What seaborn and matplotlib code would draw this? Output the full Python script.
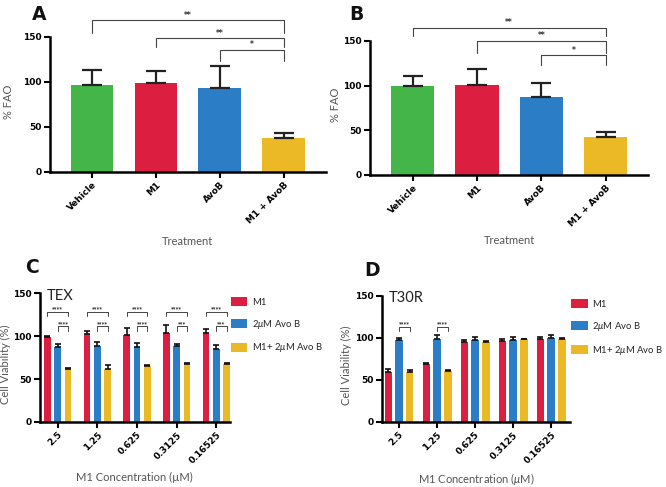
import numpy as np
import pandas as pd
import matplotlib
matplotlib.use("Agg")
import matplotlib.pyplot as plt
import seaborn as sns

# Panels A / B: % FAO by treatment (mean and upper SD)
treatments = ["Vehicle", "M1", "AvoB", "M1 + AvoB"]
fao_a = [96.7, 98.5, 93.3, 38.1]
fao_a_sd = [15.9, 13.4, 24.1, 5.2]
fao_b = [99.6, 100.7, 87.3, 42.5]
fao_b_sd = [11.2, 17.8, 15.3, 5.6]
fao_pairs = [(0, 3, "**"), (1, 3, "**"), (2, 3, "*")]

# Panels C / D: cell viability by M1 concentration
concentrations = ["2.5", "1.25", "0.625", "0.3125", "0.16525"]
groups = ["M1", "2$\\mu$M Avo B", "M1+ 2$\\mu$M Avo B"]
tex_m1 = [98.8, 102.0, 101.0, 103.9, 103.1]
tex_m1_sd = [1.2, 3.8, 8.0, 8.5, 5.0]
tex_avob = [87.2, 88.4, 87.6, 88.0, 84.5]
tex_avob_sd = [3.1, 5.0, 4.3, 2.7, 4.6]
tex_combo = [61.3, 61.3, 64.7, 67.0, 67.8]
tex_combo_sd = [1.1, 4.7, 2.0, 1.2, 0.8]
tex_stars_top = ["****", "****", "****", "****", "****"]
tex_stars_low = ["****", "****", "****", "***", "***"]

t30r_m1 = [59.4, 69.3, 95.0, 95.8, 99.0]
t30r_m1_sd = [3.2, 1.2, 2.4, 2.8, 1.6]
t30r_avob = [97.4, 99.0, 97.4, 97.8, 99.4]
t30r_avob_sd = [2.6, 4.0, 3.6, 3.2, 3.6]
t30r_combo = [59.4, 61.0, 95.4, 98.2, 99.0]
t30r_combo_sd = [2.6, 1.0, 0.8, 0.4, 0.4]
t30r_stars = ["****", "****", "", "", ""]

fao_colors = ["#44b649", "#dc1f41", "#2b7dc5", "#ebb925"]
via_colors = ["#dc1f41", "#2b7dc5", "#ebb925"]

sns.set_style("ticks")
plt.rcParams["font.family"] = ["DejaVu Sans"]
plt.rcParams["mathtext.fontset"] = "custom"
plt.rcParams["mathtext.rm"] = "Lato"
plt.rcParams["mathtext.it"] = "Lato:italic"
label_gray = "#555555"
lab_font = dict(family=["Lato", "DejaVu Sans"], color=label_gray, fontsize=8)

fig = plt.figure(figsize=(6.66, 4.87), dpi=100)
ax_a = fig.add_axes([0.075, 0.647, 0.414, 0.278])
ax_b = fig.add_axes([0.556, 0.641, 0.417, 0.275])
ax_c = fig.add_axes([0.060, 0.1335, 0.285, 0.2645])
ax_d = fig.add_axes([0.574, 0.1335, 0.282, 0.2595])


def style_axis(ax):
    sns.despine(ax=ax)
    for s in ["left", "bottom"]:
        ax.spines[s].set_linewidth(1.8)
        ax.spines[s].set_color("black")
    ax.tick_params(width=1.5, length=4, labelsize=6.5, colors="black", pad=2)
    ax.set_yticks([0, 50, 100, 150])
    ax.set_ylim(0, 150)
    for lbl in ax.get_xticklabels() + ax.get_yticklabels():
        lbl.set_fontweight("bold")
    for lbl in ax.get_xticklabels():
        lbl.set_rotation(45)
        lbl.set_ha("right")
        lbl.set_rotation_mode("anchor")


def bracket(ax, x1, x2, y, drop, text, fs, lw=0.8):
    ax.plot([x1, x1, x2, x2], [y - drop, y, y, y - drop], color="#444444",
            lw=lw, clip_on=False)
    if text:
        ax.text((x1 + x2) / 2, y + 0.5, text, ha="center", va="bottom",
                fontsize=fs, fontweight="bold", color="#333333")


def fao_panel(ax, vals, sds, heights):
    sns.barplot(x=treatments, y=vals, hue=treatments, palette=fao_colors,
                width=0.67, saturation=1, legend=False, linewidth=0, ax=ax)
    ax.errorbar(range(len(vals)), vals, yerr=[np.zeros(len(vals)), sds],
                fmt="none", ecolor="#222222", elinewidth=1.6, capsize=7,
                capthick=1.6)
    ax.set_xlim(-0.66, 3.66)
    style_axis(ax)
    ax.set_ylabel("% FAO", **lab_font)
    ax.set_xlabel("Treatment", **lab_font)
    for (i, j, s), (h, d) in zip(fao_pairs, heights):
        bracket(ax, i, j, h, d, s, 5.5)


fao_panel(ax_a, fao_a, fao_a_sd, [(168, 14), (148, 10), (135.5, 12.5)])
fao_panel(ax_b, fao_b, fao_b_sd, [(165, 10), (150, 13), (134, 11)])
ax_a.yaxis.set_label_coords(-0.13, 0.52)
ax_b.yaxis.set_label_coords(-0.105, 0.52)
ax_a.xaxis.set_label_coords(0.5, -0.47)
ax_b.xaxis.set_label_coords(0.5, -0.45)


def viability_panel(ax, series, sds, width, gap, title):
    df = pd.DataFrame({
        "conc": concentrations * 3,
        "group": np.repeat(groups, len(concentrations)),
        "val": np.concatenate(series),
    })
    sns.barplot(data=df, x="conc", y="val", hue="group", hue_order=groups,
                palette=via_colors, width=width, gap=gap, saturation=1,
                linewidth=0, ax=ax)
    centers = []
    for cont, sd in zip(ax.containers, sds):
        xs = [b.get_x() + b.get_width() / 2 for b in cont]
        hs = [b.get_height() for b in cont]
        ax.errorbar(xs, hs, yerr=[np.zeros(len(hs)), sd], fmt="none",
                    ecolor="#111111", elinewidth=1.2, capsize=2, capthick=1.2)
        centers.append(xs)
    handles, _ = ax.get_legend_handles_labels()
    ax.legend(handles, groups, loc="upper left", bbox_to_anchor=(1.005, 0.97),
              frameon=False, prop=dict(family=["Lato", "DejaVu Sans"], size=6.8),
              handlelength=1.75, handleheight=1.05, labelspacing=1.15,
              handletextpad=0.5, borderaxespad=0, borderpad=0)
    style_axis(ax)
    ax.set_ylabel("Cell Viability (%)", **lab_font)
    ax.set_xlabel("M1 Concentration ($\\mu$M)", **lab_font)
    ax.text(0.035, 1.035, title, transform=ax.transAxes, ha="left", va="top",
            fontsize=10.5, color="#222222", family=["Lato", "DejaVu Sans"])
    return centers


c_centers = viability_panel(ax_c, [tex_m1, tex_avob, tex_combo],
                            [tex_m1_sd, tex_avob_sd, tex_combo_sd],
                            0.78, 0.35, "TEX")
ax_c.set_xlim(-0.45, 4.34)
ax_c.set_xlabel("M1 Concentration (\u00b5M)", **lab_font)
for k in range(len(concentrations)):
    bracket(ax_c, c_centers[0][k], c_centers[2][k], 128, 5, tex_stars_top[k], 3.8, 0.7)
    bracket(ax_c, c_centers[1][k], c_centers[2][k], 111.6, 5.5, tex_stars_low[k], 3.8, 0.7)

d_centers = viability_panel(ax_d, [t30r_m1, t30r_avob, t30r_combo],
                            [t30r_m1_sd, t30r_avob_sd, t30r_combo_sd],
                            0.84, 0.28, "T30R")
ax_d.set_xlim(-0.44, 4.5)
for k in range(len(concentrations)):
    if t30r_stars[k]:
        bracket(ax_d, d_centers[1][k], d_centers[2][k], 113, 5, t30r_stars[k], 3.8, 0.7)

ax_c.yaxis.set_label_coords(-0.155, 0.45)
ax_d.yaxis.set_label_coords(-0.16, 0.45)
ax_c.xaxis.set_label_coords(0.5, -0.385)
ax_d.xaxis.set_label_coords(0.5, -0.385)

for letter, x, y in [("A", 0.048, 0.99), ("B", 0.525, 0.99),
                     ("C", 0.038, 0.47), ("D", 0.547, 0.465)]:
    fig.text(x, y, letter, fontsize=13.5, fontweight="bold", va="top",
             ha="left", color="#111111")

fig.savefig("out.png", dpi=100)
